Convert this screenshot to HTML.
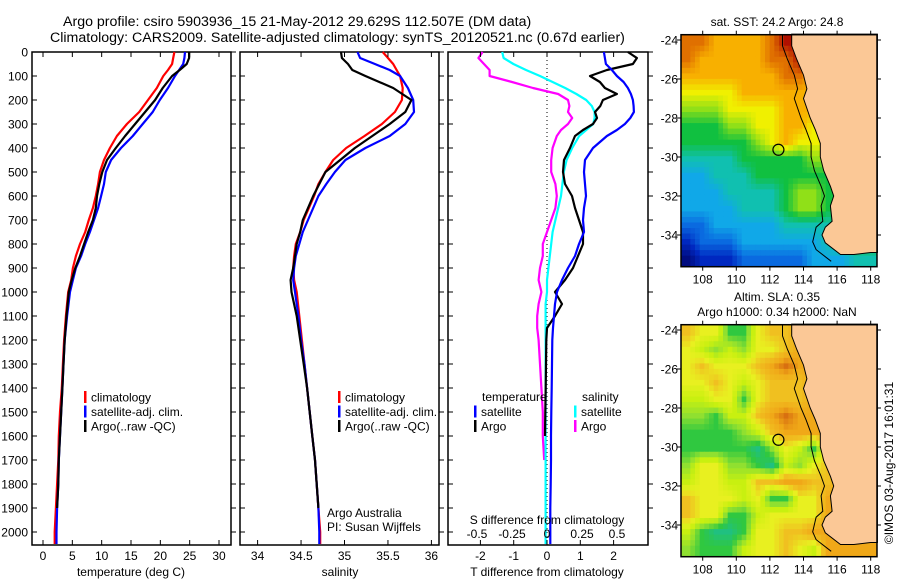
<!DOCTYPE html>
<html><head><meta charset="utf-8">
<style>
html,body{margin:0;padding:0;background:#fff;}
svg{display:block;font-family:"Liberation Sans",sans-serif;}
</style></head>
<body>
<svg id="fig" width="900" height="580" viewBox="0 0 900 580" xmlns="http://www.w3.org/2000/svg">
<text x="63" y="26" font-size="14.2">Argo profile: csiro 5903936_15 21-May-2012 29.629S 112.507E (DM data)</text>
<text x="50" y="42" font-size="14.2">Climatology: CARS2009. Satellite-adjusted climatology: synTS_20120521.nc (0.67d earlier)</text>
<g id="panels"></g>
<g id="maps"></g>
</svg>
<script>
// ---------- data ----------
const depths = [0,25,50,75,100,150,200,250,300,350,400,450,500,550,600,650,700,750,800,850,900,950,1000,1100,1200,1300,1400,1500,1600,1700,1800,1900,2000,2050];
const tempClim = [22.4,22.2,22.0,21.3,20.5,19.4,17.9,16.4,14.3,12.6,11.4,10.4,9.7,9.4,9.0,8.5,7.8,7.2,6.3,5.6,5.1,4.8,4.3,3.9,3.6,3.4,3.2,2.9,2.7,2.6,2.4,2.2,2.0,2.0];
const tempSat  = [24.2,24.1,23.9,23.2,22.5,21.3,19.9,18.7,17.0,15.3,13.3,11.6,10.7,10.4,9.9,9.4,8.7,8.0,7.2,6.5,5.6,5.1,4.6,4.1,3.7,3.5,3.3,3.1,2.9,2.7,2.6,2.4,2.3,2.3];
const tempArgo = [24.9,24.9,24.5,23.3,22.0,20.4,19.1,17.4,15.7,14.0,12.4,10.9,10.1,9.6,9.2,9.0,8.5,7.7,7.0,6.3,5.5,4.9,4.4,4.0,3.7,3.5,3.3,3.1,2.9,2.7,2.6,2.4];
const salClim = [35.44,35.50,35.56,35.60,35.64,35.67,35.66,35.58,35.43,35.23,35.02,34.87,34.78,34.70,34.65,34.59,34.53,34.49,34.44,34.42,34.41,34.42,34.45,34.48,34.51,34.54,34.57,34.60,34.63,34.66,34.68,34.70,34.72,34.72];
const salSat  = [35.15,35.18,35.35,35.52,35.64,35.73,35.79,35.80,35.70,35.52,35.24,35.01,34.89,34.79,34.70,34.64,34.58,34.52,34.48,34.44,34.42,34.41,34.43,34.47,34.50,34.54,34.57,34.60,34.63,34.66,34.68,34.70,34.71,34.71];
const salArgo = [34.96,34.97,35.04,35.09,35.24,35.56,35.77,35.70,35.52,35.32,35.12,34.95,34.78,34.71,34.64,34.58,34.52,34.49,34.45,34.43,34.41,34.38,34.39,34.45,34.49,34.53,34.57,34.60,34.63,34.66,34.68,34.70];
const diffDepths = [0,25,50,75,100,125,150,175,200,225,250,275,300,325,350,400,450,500,550,600,650,700,750,800,850,900,950,1000,1050,1100,1150,1200,1300,1400,1500,1600,1700,1800,1900,2000,2050];
const dTSat  = [1.71,1.74,1.77,1.95,2.1,2.3,2.43,2.52,2.58,2.6,2.61,2.5,2.34,2.1,1.8,1.38,1.14,1.11,1.14,1.17,1.11,1.08,1.11,0.96,0.84,0.63,0.45,0.3,0.24,0.21,0.18,0.16,0.15,0.14,0.13,0.12,0.12,0.11,0.1,0.1,0.1];
const dTArgo = [2.43,2.7,2.58,1.8,1.29,1.59,1.74,2.1,1.68,1.6,1.44,1.5,1.38,1.08,0.84,0.69,0.51,0.48,0.54,0.75,0.84,0.96,1.08,1.08,0.93,0.78,0.54,0.24,0.45,0.24,0.0,-0.02,-0.03,-0.04,-0.05,-0.06];
const dSSat  = [-0.32,-0.31,-0.24,-0.15,-0.05,0.04,0.13,0.21,0.28,0.32,0.34,0.34,0.33,0.28,0.23,0.18,0.14,0.12,0.11,0.10,0.08,0.06,0.04,0.03,0.02,0.01,0.0,0.0,-0.01,-0.01,-0.01,-0.01,-0.01,-0.01,-0.01,-0.01,-0.01,-0.01,-0.01,-0.01,-0.01];
const dSArgo = [-0.46,-0.49,-0.45,-0.41,-0.41,-0.25,-0.10,0.08,0.15,0.16,0.15,0.18,0.15,0.10,0.07,0.04,0.03,0.03,0.06,0.07,0.06,0.03,0.0,-0.03,-0.03,-0.05,-0.06,-0.04,-0.06,-0.07,-0.07,-0.06,-0.05,-0.04,-0.03,-0.03,-0.02];
const depthTicks = [0,100,200,300,400,500,600,700,800,900,1000,1100,1200,1300,1400,1500,1600,1700,1800,1900,2000];
const tempTicks = [0,5,10,15,20,25,30];
const salTicks = [34,34.5,35,35.5,36];
const salTickLabels = ["34","34.5","35","35.5","36"];
const dTTicks = [-2,-1,0,1,2];
const dSTicks = [-0.5,-0.25,0,0.25,0.5];
const dSTickLabels = ["-0.5","-0.25","0","0.25","0.5"];
const lonTicks = [108,110,112,114,116,118];
const latTicks = [24,26,28,30,32,34];
const sstGrid = [
[9,9,8,8,8,8,9,10,10,9,9,9,9,9],
[9,8,8,8,8,8,9,9,10,8,8,8,8,8],
[8,8,8,8,8,8,8,9,9,8,8,8,8,8],
[7,7,7,7,8,8,8,8,8,8,7,7,7,7],
[6,6,6,7,7,7,7,8,8,8,7,7,7,7],
[5,5,5,6,6,7,7,8,8,7,7,7,7,7],
[5,5,5,5,5,6,7,8,7,7,7,6,6,6],
[4,4,4,4,5,5,5,5,5,6,6,5,5,5],
[3,3,4,4,4,5,5,5,5,5,5,5,5,5],
[3,3,3,4,4,4,4,5,6,6,5,5,5,5],
[3,3,3,3,4,4,4,5,6,6,5,5,5,5],
[2,2,3,3,3,3,3,4,4,4,4,5,5,5],
[1,2,2,2,3,3,3,3,3,3,4,5,5,5],
[0,1,1,1,2,2,2,2,2,3,3,3,4,4]];
const slaGrid = [
[8,7,7,4,4,7,8,8,9,9,9,9,9,9],
[7,6,5,6,5,7,7,8,9,9,9,9,9,9],
[7,8,7,7,7,8,9,10,9,9,9,9,9,9],
[7,7,8,7,6,7,8,8,8,9,9,9,9,9],
[6,6,7,7,4,7,8,8,8,9,9,9,9,9],
[5,5,4,6,6,8,9,10,9,9,9,9,9,9],
[4,4,4,4,5,6,8,9,9,9,9,9,9,9],
[4,4,4,4,4,3,5,7,6,4,8,9,9,9],
[5,7,7,5,5,4,3,6,5,7,8,9,9,9],
[6,7,7,6,6,8,8,9,9,8,8,9,9,9],
[8,7,7,7,6,7,4,4,7,7,9,9,9,9],
[8,7,7,4,4,6,7,7,7,7,9,9,9,9],
[6,4,3,3,4,7,7,8,8,9,9,9,9,9],
[5,4,4,4,6,7,7,8,7,6,9,9,9,9]];
const coastLon = [113.3,113.3,113.6,114.0,114.2,114.0,114.4,114.7,115.0,115.0,115.2,115.6,115.8,115.6,115.7,115.3,115.1,115.3,116.2,117.0,118.0,118.4,118.4];
const coastLat = [23.7,24.3,25.0,25.8,26.5,27.0,28.0,28.6,29.3,30.0,30.7,31.5,32.0,32.5,33.3,33.6,34.0,34.4,35.0,35.0,34.9,34.9,23.7];
const argoLon = 112.507, argoLat = 29.629;

// ---------- helpers ----------
const NS="http://www.w3.org/2000/svg";
function mk(parent,tag,attrs){const e=document.createElementNS(NS,tag);for(const k in attrs)e.setAttribute(k,attrs[k]);parent.appendChild(e);return e;}
function txt(parent,x,y,s,size,anchor){const t=mk(parent,'text',{x:x,y:y,'font-size':size,'text-anchor':anchor||'start'});t.textContent=s;return t;}
const TOP=52, BOT=545;
const yD = d => TOP + d*0.24;
const panelsG=document.getElementById('panels');

function panel(name,x0,x1){
  const g=mk(panelsG,'g',{});
  
  
  const r=mk(g,'rect',{x:x0,y:TOP,width:x1-x0,height:BOT-TOP,fill:'none',stroke:'#000','stroke-width':1.5});
  
  
  depthTicks.forEach(d=>{
    mk(g,'line',{x1:x0,x2:x0+5,y1:yD(d),y2:yD(d),stroke:'#000'});
    mk(g,'line',{x1:x1,x2:x1+5,y1:yD(d),y2:yD(d),stroke:'#000'});
  });
  return g;
}
function series(g,name,xs,ds,xf,color){
  const pts=xs.map((v,i)=>xf(v).toFixed(1)+','+yD(ds[i]).toFixed(1)).join(' ');
  const p=mk(g,'polyline',{points:pts,fill:'none',stroke:color,'stroke-width':2.2,'stroke-linejoin':'round'});
  
  
}
function xticks(g,ticks,labels,xf,ylab){
  ticks.forEach((t,i)=>{
    const x=xf(t);
    mk(g,'line',{x1:x,x2:x,y1:BOT,y2:BOT-5,stroke:'#000'});
    mk(g,'line',{x1:x,x2:x,y1:TOP,y2:TOP+5,stroke:'#000'});
    const l=txt(g,x,ylab,labels[i],12,'middle');
    
    
  });
}
function legend(g,x,y0,items){
  items.forEach((it,i)=>{
    const y=y0+i*14.5;
    mk(g,'rect',{x:x,y:y-6,width:2.5,height:12,fill:it[1]});
    const t=txt(g,x+7,y+4.5,it[0],12);
    
    
  });
}

// ---------- panel 1: temperature ----------
const xT = v => 43 + v*5.867;
const p1=panel('temperature-panel',32,231);
depthTicks.forEach(d=>{const l=txt(p1,28,yD(d)+4.5,String(d),12,'end');
  
  });
series(p1,'temp-climatology-line',tempClim,depths,xT,'#ff0000');
series(p1,'temp-satellite-line',tempSat,depths,xT,'#0000ff');
series(p1,'temp-argo-line',tempArgo,depths,xT,'#000000');
xticks(p1,tempTicks,tempTicks.map(String),xT,560);
const t1=txt(p1,131,576,'temperature (deg C)',12,'middle');


legend(p1,84,397,[['climatology','#ff0000'],['satellite-adj. clim.','#0000ff'],['Argo(..raw -QC)','#000']]);

// ---------- panel 2: salinity ----------
const xS = v => 257.6 + (v-34)*86.9;
const p2=panel('salinity-panel',240,439);
series(p2,'sal-climatology-line',salClim,depths,xS,'#ff0000');
series(p2,'sal-satellite-line',salSat,depths,xS,'#0000ff');
series(p2,'sal-argo-line',salArgo,depths,xS,'#000000');
xticks(p2,salTicks,salTickLabels,xS,560);
const t2=txt(p2,340,576,'salinity',12,'middle');


legend(p2,338,397,[['climatology','#ff0000'],['satellite-adj. clim.','#0000ff'],['Argo(..raw -QC)','#000']]);
const c1=txt(p2,327,517,'Argo Australia',12);


const c2=txt(p2,327,531,'PI: Susan Wijffels',12);



// ---------- panel 3: differences ----------
const xDT = v => 547 + v*33.3;
const xDS = v => 547 + v*140;
const p3=panel('difference-panel',448,648);
const zl=mk(p3,'line',{x1:547,x2:547,y1:TOP,y2:BOT,stroke:'#000','stroke-dasharray':'1,3'});


series(p3,'dS-argo-line',dSArgo,diffDepths,xDS,'#ff00ff');
series(p3,'dS-satellite-line',dSSat,diffDepths,xDS,'#00ffff');
series(p3,'dT-argo-line',dTArgo,diffDepths,xDT,'#000000');
series(p3,'dT-satellite-line',dTSat,diffDepths,xDT,'#0000ff');
xticks(p3,dTTicks,dTTicks.map(String),xDT,560);
dSTicks.forEach((t,i)=>{const l=txt(p3,xDS(t),538,dSTickLabels[i],12,'middle');
  
  });
const t3=txt(p3,547,576,'T difference from climatology',12,'middle');


const t4=txt(p3,547,524,'S difference from climatology',12,'middle');


const lt=txt(p3,482,401,'temperature',12);


const ls=txt(p3,582,401,'salinity',12);


legend(p3,474,411.5,[['satellite','#0000ff'],['Argo','#000']]);
legend(p3,574,411.5,[['satellite','#00ffff'],['Argo','#ff00ff']]);

// ---------- maps ----------
const mapsG=document.getElementById('maps');
const MX0=681, MX1=877;
const lonX = l => 702.7 + (l-108)*16.8;
const latY = (top,l) => top + 5.3 + (l-24)*19.5;
const sstCols=[[0,12,128],[0,40,192],[10,106,224],[16,168,232],[16,192,176],[16,192,64],[144,224,24],[240,240,0],[248,176,0],[224,112,0],[176,16,0]];
const slaCols=[[16,160,96],[16,176,112],[32,176,128],[32,192,128],[48,200,64],[144,224,48],[200,240,16],[232,240,32],[240,192,32],[240,168,24],[216,112,16]];
function cmap(cols,v){
  v=Math.max(0,Math.min(10,v));const i=Math.min(9,Math.floor(v)),f=v-i;
  const a=cols[i],b=cols[i+1];
  return 'rgb('+a.map((c,k)=>Math.round(c+(b[k]-c)*f)).join(',')+')';
}
function sample(grid,r,c){
  const nr=grid.length,nc=grid[0].length;
  r=Math.max(0,Math.min(nr-1,r));c=Math.max(0,Math.min(nc-1,c));
  const r0=Math.floor(r),c0=Math.floor(c),r1=Math.min(nr-1,r0+1),c1=Math.min(nc-1,c0+1);
  const fr=r-r0,fc=c-c0;
  return grid[r0][c0]*(1-fr)*(1-fc)+grid[r0][c1]*(1-fr)*fc+grid[r1][c0]*fr*(1-fc)+grid[r1][c1]*fr*fc;
}
function drawMap(name,top,grid,cols){
  const g=mk(mapsG,'g',{});
  
  
  const bot=top+232, nr=grid.length, nc=grid[0].length, S=3;
  const cw=(MX1-MX0)/nc/S, ch=(bot-top)/nr/S;
  for(let r=0;r<nr*S;r++)for(let c=0;c<nc*S;c++){
    const v=sample(grid,(r+0.5)/S-0.5,(c+0.5)/S-0.5);
    const cell=mk(g,'rect',{x:(MX0+c*cw).toFixed(2),y:(top+r*ch).toFixed(2),width:(cw+0.5).toFixed(2),height:(ch+0.5).toFixed(2),fill:cmap(cols,v)});
    
    
  }
  const pts=coastLon.map((l,i)=>lonX(l).toFixed(1)+','+latY(top,coastLat[i]).toFixed(1)).join(' ');
  const land=mk(g,'polygon',{points:pts,fill:'#fbc896',stroke:'#000','stroke-width':1});
  
  
  const pts2=coastLon.slice(0,19).map((l,i)=>lonX(l-0.55).toFixed(1)+','+latY(top,coastLat[i]+(i>15?0.35:0)).toFixed(1)).join(' ');
  const iso=mk(g,'polyline',{points:pts2,fill:'none',stroke:'#000','stroke-width':1});
  
  
  const circ=mk(g,'circle',{cx:lonX(argoLon),cy:latY(top,argoLat),r:5.5,fill:'none',stroke:'#000','stroke-width':1.2});
  
  
  const fr=mk(g,'rect',{x:MX0,y:top,width:MX1-MX0,height:bot-top,fill:'none',stroke:'#000','stroke-width':1.5});
  
  
  lonTicks.forEach(l=>{const x=lonX(l);
    mk(g,'line',{x1:x,x2:x,y1:top,y2:top-4,stroke:'#000'});
    mk(g,'line',{x1:x,x2:x,y1:bot,y2:bot+4,stroke:'#000'});
    const t=txt(g,x,bot+17,String(l),12,'middle');
    
    });
  latTicks.forEach(l=>{const y=latY(top,l);
    mk(g,'line',{x1:MX0,x2:MX0-4,y1:y,y2:y,stroke:'#000'});
    mk(g,'line',{x1:MX1,x2:MX1+4,y1:y,y2:y,stroke:'#000'});
    const t=txt(g,678,y+4.5,'-'+l,12,'end');
    
    });
}
drawMap('sst-map',34.7,sstGrid,sstCols);
drawMap('sla-map',324.7,slaGrid,slaCols);
const m1=txt(mapsG,777,26,'sat. SST: 24.2 Argo: 24.8',12,'middle');


const m2=txt(mapsG,777,301,'Altim. SLA: 0.35',12,'middle');


const m3=txt(mapsG,777,316,'Argo h1000: 0.34 h2000: NaN',12,'middle');


const cr=txt(mapsG,0,0,'©IMOS 03-Aug-2017 16:01:31',12,'middle');
cr.setAttribute('transform','translate(893,463) rotate(-90)');


</script>
</body></html>
